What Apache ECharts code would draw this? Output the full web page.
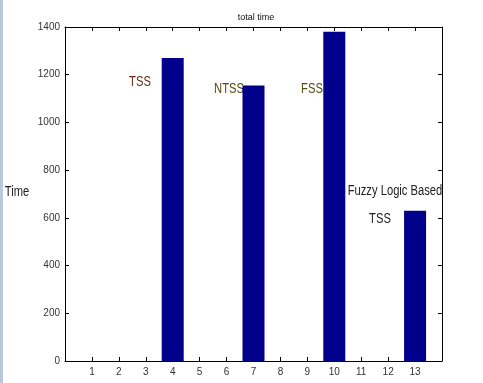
<!DOCTYPE html>
<html><head><meta charset="utf-8">
<script src="https://cdn.jsdelivr.net/npm/echarts@6/dist/echarts.min.js"></script>
<style>html,body{margin:0;padding:0;background:#fff}#c{width:483px;height:383px}</style>
</head><body><div id="c"></div>
<script>
const categories = [1,2,3,4,5,6,7,8,9,10,11,12,13];
const totalTime = [0,0,0,1270,0,0,1155,0,0,1380,0,0,630];
const yTicks = [0,200,400,600,800,1000,1200,1400];
const annotations = [
  {text:'TSS', x:140, y:82, color:'#6b2a1a'},
  {text:'NTSS', x:229, y:89, color:'#5a4a10'},
  {text:'FSS', x:312, y:89, color:'#5a4a10'},
  {text:'Fuzzy Logic Based', x:395, y:191, color:'#222'},
  {text:'TSS', x:380, y:219, color:'#222'}
];
const chart = echarts.init(document.getElementById('c'));
const tickFont = {fontFamily:'Liberation Sans, Arial, sans-serif', fontSize:10, color:'#333'};
const annFont = '"Liberation Sans", Arial, sans-serif';
chart.setOption({
  animation:false,
  backgroundColor:'#fff',
  title:{text:'total time', left:251, top:8, textAlign:'center',
    textStyle:{fontFamily:'Liberation Sans, Arial, sans-serif', fontSize:9, fontWeight:'normal', color:'#111'}},
  grid:{left:65, right:41, top:27, bottom:22},
  xAxis:[{type:'value', min:0, max:14, interval:1, position:'bottom',
      axisLine:{show:true, onZero:false, lineStyle:{color:'#000'}},
      axisTick:{show:true, inside:true, length:4, lineStyle:{color:'#000'}},
      axisLabel:Object.assign({margin:6, formatter:v => categories.indexOf(v) >= 0 ? String(v) : ''}, tickFont),
      splitLine:{show:false}},
    {type:'value', min:0, max:14, interval:1, position:'top',
      axisLine:{show:true, onZero:false, lineStyle:{color:'#000'}},
      axisTick:{show:true, inside:true, length:4, lineStyle:{color:'#000'}},
      axisLabel:{show:false}, splitLine:{show:false}}],
  yAxis:[{type:'value', min:0, max:1400, interval:200, position:'left',
      axisLine:{show:true, onZero:false, lineStyle:{color:'#000'}},
      axisTick:{show:true, inside:true, length:4, lineStyle:{color:'#000'}},
      axisLabel:Object.assign({margin:5, formatter:v => yTicks.indexOf(v) >= 0 ? String(v) : ''}, tickFont),
      splitLine:{show:false}},
    {type:'value', min:0, max:1400, interval:200, position:'right',
      axisLine:{show:true, onZero:false, lineStyle:{color:'#000'}},
      axisTick:{show:true, inside:true, length:4, lineStyle:{color:'#000'}},
      axisLabel:{show:false}, splitLine:{show:false}}],
  series:[{type:'bar', xAxisIndex:0, yAxisIndex:0, barWidth:22,
    data: categories.map((c,i)=>[c, totalTime[i]]),
    itemStyle:{color:'#00008b', borderWidth:0}}],
  graphic:[
    {type:'rect', shape:{x:0,y:0,width:3,height:383}, style:{fill:'#b9c9da'}},
    {type:'text', x:17, y:192, scaleX:0.8, style:{text:'Time', font:'14px ' + annFont, fill:'#222', align:'center', verticalAlign:'middle'}}
  ].concat(annotations.map(a => ({type:'text', x:a.x, y:a.y, scaleX:0.8,
    style:{text:a.text, font:'14px ' + annFont, fill:a.color, align:'center', verticalAlign:'middle'}})))
});
</script></body></html>
